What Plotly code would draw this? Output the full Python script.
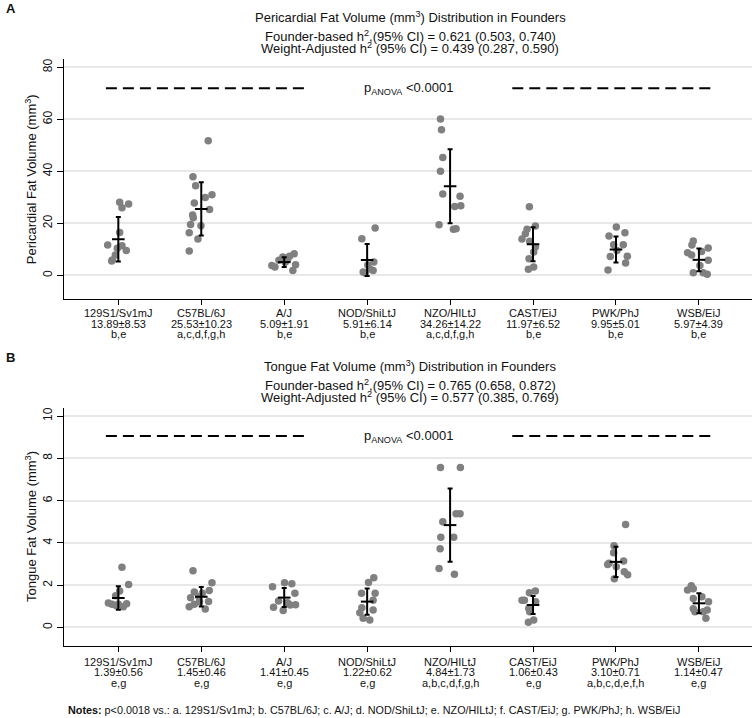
import plotly.graph_objects as go

# ---------------- data ----------------
strains = ["129S1/Sv1mJ", "C57BL/6J", "A/J", "NOD/ShiLtJ", "NZO/HILtJ", "CAST/EiJ", "PWK/PhJ", "WSB/EiJ"]

peri_mean = [13.89, 25.53, 5.09, 5.91, 34.26, 11.97, 9.95, 5.97]
peri_sd = [8.53, 10.23, 1.91, 6.14, 14.22, 6.52, 5.01, 4.39]
peri_sig = ["b,e", "a,c,d,f,g,h", "b,e", "b,e", "a,c,d,f,g,h", "b,e", "b,e", "b,e"]

tongue_mean = [1.39, 1.45, 1.41, 1.22, 4.84, 1.06, 3.10, 1.14]
tongue_sd = [0.56, 0.46, 0.45, 0.62, 1.73, 0.43, 0.71, 0.47]
tongue_sig = ["e,g", "e,g", "e,g", "e,g", "a,b,c,d,f,g,h", "e,g", "a,b,c,d,e,f,h", "e,g"]

# individual animals
peri_values = [
    [28.1, 26.0, 27.4, 16.5, 11.7, 11.4, 10.4, 9.6, 7.8, 5.9, 5.5],
    [51.8, 37.9, 34.5, 31.0, 29.9, 27.8, 25.3, 23.2, 22.2, 19.6, 19.1, 16.4, 14.0, 9.4],
    [8.3, 7.3, 7.1, 6.0, 5.8, 5.0, 4.1, 3.8, 3.2, 1.9],
    [18.2, 14.1, 5.1, 4.0, 1.9, 1.3, 0.9, 2.4],
    [60.1, 56.0, 45.3, 40.0, 31.3, 30.4, 26.5, 26.8, 19.5, 17.9, 17.7],
    [26.4, 19.0, 17.7, 16.0, 14.0, 13.1, 10.9, 9.0, 6.4, 3.2, 2.3],
    [18.6, 15.1, 16.4, 11.8, 11.8, 9.6, 7.2, 7.3, 4.7, 2.1],
    [13.2, 11.7, 10.5, 8.7, 7.8, 9.2, 5.8, 3.8, 1.0, 1.0, 0.4],
]
# horizontal jitter of each animal (category units)
peri_jitter = [
    [0.016, 0.044, 0.124, 0.016, -0.128, 0.044, -0.012, 0.096, -0.036, -0.072, -0.080],
    [0.084, -0.100, -0.068, 0.129, 0.048, -0.084, 0.100, -0.104, -0.096, -0.129, -0.004, -0.145, -0.040, -0.145],
    [0.120, 0.064, -0.016, 0.040, -0.064, 0.012, 0.137, -0.149, -0.112, 0.104],
    [0.096, -0.064, 0.080, 0.008, 0.072, -0.048, -0.024, 0.032],
    [-0.116, -0.104, -0.088, -0.116, -0.088, 0.120, 0.056, 0.129, -0.133, 0.072, 0.040],
    [-0.044, 0.028, -0.072, -0.092, -0.133, -0.040, 0.028, 0.008, -0.048, 0.008, -0.056],
    [0.004, -0.084, 0.108, -0.028, 0.088, 0.012, -0.068, 0.137, 0.116, -0.096],
    [-0.068, -0.084, 0.112, -0.137, -0.088, 0.032, 0.112, 0.012, -0.068, 0.052, 0.100],
]

tongue_values = [
    [2.85, 2.03, 1.72, 1.50, 1.15, 1.09, 1.10, 1.12, 0.98, 1.04],
    [2.68, 2.11, 1.75, 1.67, 1.61, 1.40, 1.45, 1.23, 1.09, 0.98, 0.87, 1.21],
    [1.92, 2.11, 2.07, 1.62, 1.25, 1.17, 1.07, 0.95, 0.80, 1.06],
    [2.35, 2.13, 1.62, 1.62, 1.29, 0.93, 0.69, 0.82, 0.43, 0.35],
    [7.57, 7.57, 5.38, 5.38, 5.00, 4.27, 4.27, 3.72, 2.79, 2.52],
    [1.64, 1.72, 1.29, 1.28, 1.21, 0.90, 0.74, 0.35, 0.24],
    [4.87, 3.86, 3.53, 3.14, 3.04, 2.98, 2.87, 2.63, 2.49, 2.30],
    [1.97, 1.83, 1.77, 1.45, 1.37, 1.21, 0.88, 0.82, 0.74, 0.74, 0.43],
]
tongue_jitter = [
    [0.044, 0.124, 0.016, -0.032, -0.120, -0.076, 0.000, 0.100, 0.060, -0.028],
    [-0.100, 0.129, 0.096, -0.084, 0.012, -0.129, -0.028, 0.088, -0.084, -0.145, 0.048, -0.020],
    [-0.141, 0.004, 0.092, 0.129, -0.068, 0.040, 0.137, -0.129, -0.012, 0.072],
    [0.080, 0.016, -0.068, 0.096, 0.072, -0.064, -0.088, 0.072, -0.048, 0.032],
    [-0.116, 0.124, 0.072, 0.120, -0.088, -0.112, 0.044, -0.120, -0.133, 0.052],
    [-0.044, 0.028, -0.133, -0.104, 0.032, -0.052, -0.040, 0.008, -0.056],
    [0.116, -0.024, -0.028, 0.092, -0.084, -0.100, 0.004, 0.100, 0.141, -0.020],
    [-0.092, -0.068, -0.137, 0.036, -0.068, 0.116, -0.068, 0.100, 0.052, -0.048, 0.084],
]

peri_yticks = [0, 20, 40, 60, 80]
tongue_yticks = [0, 2, 4, 6, 8, 10]
peri_anova_y = 72
tongue_anova_y = 9.05
anova_text = "p<sub>ANOVA</sub> <0.0001"

notes = ("<b>Notes:</b> p<0.0018 vs.: a. 129S1/Sv1mJ; b. C57BL/6J; c. A/J; d. NOD/ShiLtJ; "
         "e. NZO/HILtJ; f. CAST/EiJ; g. PWK/PhJ; h. WSB/EiJ")

# ---------------- layout constants ----------------
W, H = 755, 718
FONT = "Liberation Sans, Arial, Helvetica, sans-serif"
TXT = "#111111"
DOT = "#808080"


def py(p):  # pixel row -> paper y
    return 1 - p / H


def px(p):  # pixel column -> paper x
    return p / W


X_DOM = [px(64), px(752)]
X_RANGE = [0.345, 8.64]
panels = [
    dict(ax="", dom=[py(299), py(59.3)], yr=[-9.1, 83.1], ticks=peri_yticks,
         vals=peri_values, jit=peri_jitter, mean=peri_mean, sd=peri_sd, sig=peri_sig,
         anova=peri_anova_y, letter="A", letter_y=8.5,
         title="Pericardial Fat Volume (mm<sup>3</sup>) Distribution in Founders",
         h1="Founder-based h<sup>2</sup>,(95% CI) = 0.621 (0.503, 0.740)",
         h2="Weight-Adjusted h<sup>2</sup> (95% CI) = 0.439 (0.287, 0.590)",
         ty=[17.3, 35.5, 47.7], lab_y=[313.3, 323.6, 334.3],
         ytitle="Pericardial Fat Volume (mm<sup>3</sup>)"),
    dict(ax="2", dom=[py(646), py(408)], yr=[-0.88, 10.38], ticks=tongue_yticks,
         vals=tongue_values, jit=tongue_jitter, mean=tongue_mean, sd=tongue_sd, sig=tongue_sig,
         anova=tongue_anova_y, letter="B", letter_y=357,
         title="Tongue Fat Volume (mm<sup>3</sup>) Distribution in Founders",
         h1="Founder-based h<sup>2</sup>,(95% CI) = 0.765 (0.658, 0.872)",
         h2="Weight-Adjusted h<sup>2</sup> (95% CI) = 0.577 (0.385, 0.769)",
         ty=[366, 384.5, 397], lab_y=[661.7, 672.2, 683.0],
         ytitle="Tongue Fat Volume (mm<sup>3</sup>)"),
]

fig = go.Figure()
annotations = []
shapes = []
cats = list(range(1, len(strains) + 1))

for p in panels:
    xa, ya = "x" + p["ax"], "y" + p["ax"]
    xs, ys = [], []
    for i, (vals, jit) in enumerate(zip(p["vals"], p["jit"])):
        for v, j in zip(vals, jit):
            xs.append(cats[i] + j)
            ys.append(v)
    fig.add_trace(go.Scatter(
        x=xs, y=ys, mode="markers", xaxis=xa, yaxis=ya, showlegend=False,
        marker=dict(color=DOT, size=7.5, line=dict(width=0)), hoverinfo="y"))
    fig.add_trace(go.Scatter(
        x=cats, y=p["mean"], mode="markers", xaxis=xa, yaxis=ya, showlegend=False,
        marker=dict(symbol="line-ew", size=9, color="black", line=dict(width=2, color="black")),
        error_y=dict(type="data", array=p["sd"], visible=True, color="black", thickness=2, width=2.5)))

    # ANOVA dashed segments and text
    for x0, x1 in [(0.85, 3.25), (5.75, 8.15)]:
        shapes.append(dict(type="line", xref=xa, yref=ya, x0=x0, x1=x1, y0=p["anova"], y1=p["anova"],
                           line=dict(color="black", width=2, dash="11px,6px")))
    annotations.append(dict(xref=xa, yref=ya, x=4.5, y=p["anova"], text=anova_text, showarrow=False,
                            font=dict(size=13, family=FONT, color=TXT), xanchor="center", yanchor="middle"))

    # titles
    for t, yy in zip([p["title"], p["h1"], p["h2"]], p["ty"]):
        annotations.append(dict(xref="paper", yref="paper", x=px(410), y=py(yy), text=t, showarrow=False,
                                font=dict(size=13, family=FONT, color=TXT), xanchor="center", yanchor="middle",
                                borderpad=0))
    annotations.append(dict(xref="paper", yref="paper", x=px(4), y=py(p["letter_y"]), text="<b>" + p["letter"] + "</b>",
                            showarrow=False, font=dict(size=13, family=FONT, color=TXT),
                            xanchor="left", yanchor="middle"))
    # y axis title
    mid = (p["dom"][0] + p["dom"][1]) / 2
    annotations.append(dict(xref="paper", yref="paper", x=px(31), y=mid, text=p["ytitle"], textangle=-90,
                            showarrow=False, font=dict(size=13, family=FONT, color=TXT),
                            xanchor="center", yanchor="middle"))
    # category labels (three lines)
    for i, name in enumerate(strains):
        lines = [name, f"{p['mean'][i]:.2f}±{p['sd'][i]:.2f}", p["sig"][i]]
        for t, yy in zip(lines, p["lab_y"]):
            annotations.append(dict(xref=xa, yref="paper", x=cats[i], y=py(yy), text=t, showarrow=False,
                                    font=dict(size=11, family=FONT, color=TXT),
                                    xanchor="center", yanchor="middle", borderpad=0))

    axis_common = dict(showline=True, linecolor="black", linewidth=1.2, mirror=False)
    fig.update_layout(**{
        "xaxis" + p["ax"]: dict(domain=X_DOM, range=X_RANGE, tickvals=cats, showticklabels=False,
                                ticks="outside", ticklen=5, tickcolor="black", tickwidth=1,
                                showgrid=False, zeroline=False, anchor=ya, **axis_common),
        "yaxis" + p["ax"]: dict(domain=p["dom"], range=p["yr"], tickvals=p["ticks"], tickangle=-90,
                                ticks="outside", ticklen=6, tickcolor="black", tickwidth=1,
                                showgrid=True, gridcolor="#e8e8e8", gridwidth=1.5, zeroline=False,
                                tickfont=dict(size=12, family=FONT, color=TXT), anchor=xa, **axis_common),
    })

annotations.append(dict(xref="paper", yref="paper", x=px(66), y=py(710), text=notes, showarrow=False,
                        font=dict(size=10.8, family=FONT, color=TXT), xanchor="left", yanchor="middle"))

fig.update_layout(
    width=W, height=H, margin=dict(l=0, r=0, t=0, b=0),
    paper_bgcolor="white", plot_bgcolor="white",
    font=dict(family=FONT, color=TXT),
    annotations=annotations, shapes=shapes, showlegend=False,
)

fig.write_html("out.html", config={"displayModeBar": False},
               post_script="document.body.style.margin='0';document.body.style.overflow='hidden';")
